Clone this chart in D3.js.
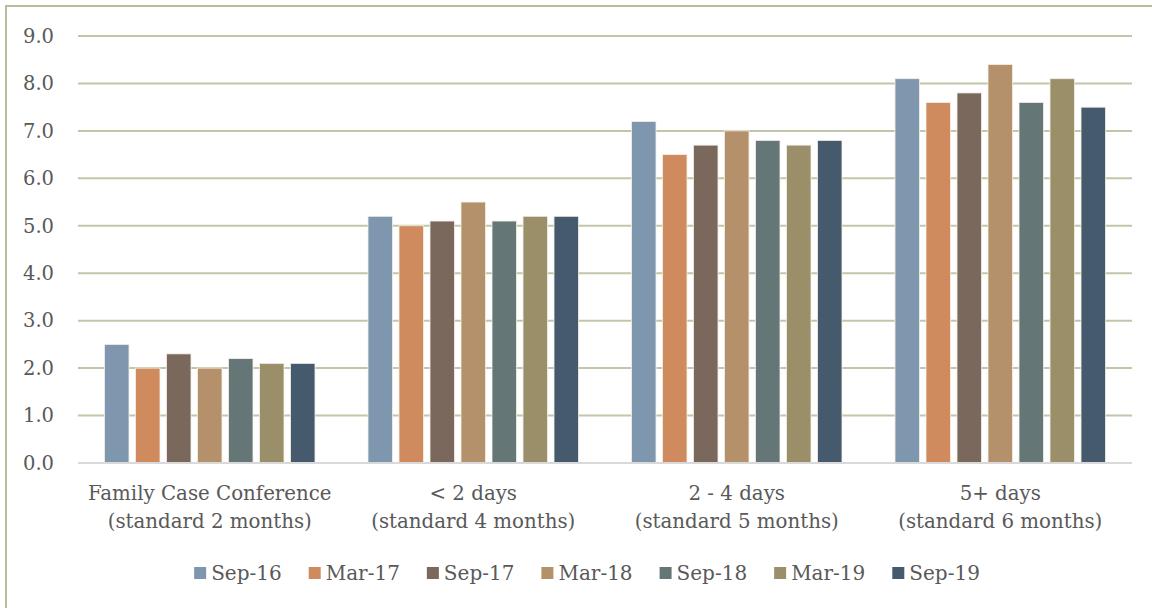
<!DOCTYPE html>
<html>
<head>
<meta charset="utf-8">
<script src="https://cdn.jsdelivr.net/npm/d3@7"></script>
<style>
  html, body { margin: 0; padding: 0; background: #fff; }
  svg { display: block; }
  text { font-family: "DejaVu Serif", "Liberation Serif", serif; fill: #595959; }
</style>
</head>
<body>
<svg id="chart" width="1152" height="608"></svg>
<script>
const categories = [
  ["Family Case Conference", "(standard 2 months)"],
  ["< 2 days", "(standard 4 months)"],
  ["2 - 4 days", "(standard 5 months)"],
  ["5+ days", "(standard 6 months)"]
];
const seriesNames = ["Sep-16", "Mar-17", "Sep-17", "Mar-18", "Sep-18", "Mar-19", "Sep-19"];
const seriesColors = ["#7f97ae", "#cf8b5e", "#7a685c", "#b5916b", "#647676", "#9b8f6a", "#465a6e"];
// values[category][series]
const values = [
  [2.5, 2.0, 2.3, 2.0, 2.2, 2.1, 2.1],
  [5.2, 5.0, 5.1, 5.5, 5.1, 5.2, 5.2],
  [7.2, 6.5, 6.7, 7.0, 6.8, 6.7, 6.8],
  [8.1, 7.6, 7.8, 8.4, 7.6, 8.1, 7.5]
];
const yTicks = [0, 1, 2, 3, 4, 5, 6, 7, 8, 9];

const svg = d3.select("#chart");

// outer border (only top and left visible in frame)
svg.append("rect")
  .attr("x", 6).attr("y", 6)
  .attr("width", 1160).attr("height", 620)
  .attr("fill", "none")
  .attr("stroke", "#b9bd9f")
  .attr("stroke-width", 2);

const plotLeft = 78, plotRight = 1132, plotTop = 36, plotBottom = 463;

const y = d3.scaleLinear().domain([0, 9]).range([plotBottom, plotTop]);
const x0 = d3.scaleBand().domain(d3.range(categories.length)).range([plotLeft, plotRight]).padding(0);
const x1 = d3.scaleBand().domain(seriesNames).range([0, x0.bandwidth()]).paddingInner(0.21).paddingOuter(0.855);

// gridlines
svg.append("g").selectAll("line")
  .data(yTicks.filter(t => t > 0))
  .join("line")
  .attr("x1", plotLeft).attr("x2", plotRight)
  .attr("y1", d => y(d)).attr("y2", d => y(d))
  .attr("stroke", "#c2c6a8")
  .attr("stroke-width", 2);

// y tick labels
svg.append("g").selectAll("text")
  .data(yTicks)
  .join("text")
  .attr("x", 54)
  .attr("y", d => y(d))
  .attr("dy", "0.35em")
  .attr("text-anchor", "end")
  .attr("font-size", 19.5)
  .text(d => d.toFixed(1));

// bars
const groups = svg.append("g").selectAll("g")
  .data(values)
  .join("g")
  .attr("transform", (d, i) => `translate(${x0(i)},0)`);

groups.selectAll("rect")
  .data(d => d.map((v, j) => ({ v, j })))
  .join("rect")
  .attr("x", d => x1(seriesNames[d.j]))
  .attr("y", d => y(d.v))
  .attr("width", x1.bandwidth())
  .attr("height", d => y(0) - y(d.v))
  .attr("fill", d => seriesColors[d.j])
  .attr("stroke", "#f4efe9")
  .attr("stroke-width", 0.8);

// baseline
svg.append("line")
  .attr("x1", plotLeft).attr("x2", plotRight)
  .attr("y1", y(0)).attr("y2", y(0))
  .attr("stroke", "#d9d9d9")
  .attr("stroke-width", 2);

// x labels
const xl = svg.append("g").selectAll("text")
  .data(categories)
  .join("text")
  .attr("x", (d, i) => x0(i) + x0.bandwidth() / 2)
  .attr("y", 500)
  .attr("text-anchor", "middle")
  .attr("font-size", 19.8);
xl.append("tspan").attr("x", (d, i) => x0(i) + x0.bandwidth() / 2).text(d => d[0]);
xl.append("tspan").attr("x", (d, i) => x0(i) + x0.bandwidth() / 2).attr("dy", 28).text(d => d[1]);

// legend
const legend = svg.append("g");
const items = legend.selectAll("g").data(seriesNames).join("g");
items.append("rect")
  .attr("width", 12).attr("height", 12)
  .attr("y", -6)
  .attr("fill", (d, i) => seriesColors[i]);
items.append("text")
  .attr("x", 17)
  .attr("dy", "0.35em")
  .attr("font-size", 20)
  .text(d => d);
const gap = 27;
const widths = items.nodes().map(n => n.getBBox().width);
const total = d3.sum(widths) + gap * (widths.length - 1);
let start = 587 - total / 2;
items.attr("transform", (d, i) => {
  const t = `translate(${start},573)`;
  start += widths[i] + gap;
  return t;
});
</script>
</body>
</html>
